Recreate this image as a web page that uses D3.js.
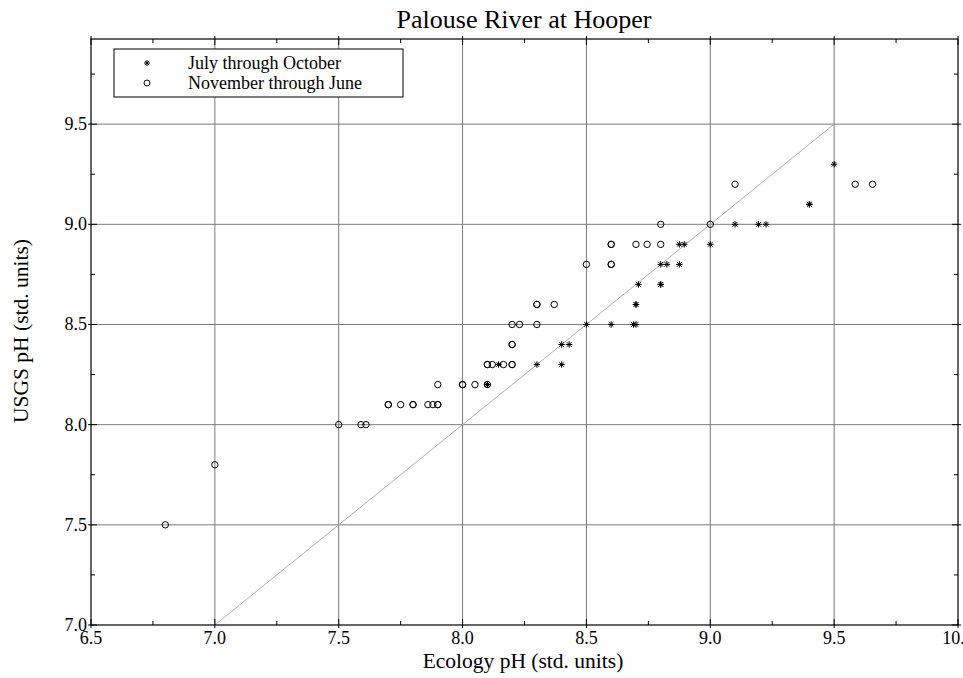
<!DOCTYPE html>
<html>
<head>
<meta charset="utf-8">
<script src="https://cdn.jsdelivr.net/npm/d3@7.9.0/dist/d3.min.js"></script>
<style>
  body { margin: 0; background: #fff; }
  svg { display: block; font-family: "Liberation Serif", "Times New Roman", serif; }
</style>
</head>
<body>
<svg id="chart" width="963" height="678"></svg>
<script>
// July through October (asterisks)
const julyX = [8.1, 8.1, 8.145, 8.3, 8.4, 8.4, 8.43, 8.5, 8.6, 8.69, 8.7, 8.7, 8.7,
  8.71, 8.8, 8.8, 8.8, 8.825, 8.875, 8.875, 8.895, 9.0, 9.1, 9.195, 9.225, 9.4, 9.4, 9.5];
const julyY = [8.2, 8.2, 8.3, 8.3, 8.3, 8.4, 8.4, 8.5, 8.5, 8.5, 8.5, 8.6, 8.6,
  8.7, 8.7, 8.7, 8.8, 8.8, 8.8, 8.9, 8.9, 8.9, 9.0, 9.0, 9.0, 9.1, 9.1, 9.3];

// November through June (circles)
const novX = [6.8, 7.0, 7.5, 7.59, 7.61,
  7.7, 7.7, 7.75, 7.8, 7.8, 7.86, 7.88, 7.9, 7.9,
  7.9, 8.0, 8.0, 8.05, 8.1,
  8.1, 8.1, 8.12, 8.165, 8.2, 8.2,
  8.2, 8.2,
  8.2, 8.23, 8.3,
  8.3, 8.3, 8.37,
  8.5, 8.6, 8.6,
  8.6, 8.6, 8.7, 8.745, 8.8,
  8.8, 9.0,
  9.1, 9.585, 9.655];
const novY = [7.5, 7.8, 8.0, 8.0, 8.0,
  8.1, 8.1, 8.1, 8.1, 8.1, 8.1, 8.1, 8.1, 8.1,
  8.2, 8.2, 8.2, 8.2, 8.2,
  8.3, 8.3, 8.3, 8.3, 8.3, 8.3,
  8.4, 8.4,
  8.5, 8.5, 8.5,
  8.6, 8.6, 8.6,
  8.8, 8.8, 8.8,
  8.9, 8.9, 8.9, 8.9, 8.9,
  9.0, 9.0,
  9.2, 9.2, 9.2];

const xTicks = [6.5, 7.0, 7.5, 8.0, 8.5, 9.0, 9.5, 10.0];
const yTicks = [7.0, 7.5, 8.0, 8.5, 9.0, 9.5];
const legendLabels = ['July through October', 'November through June'];

const svg = d3.select('#chart');
const plotLeft = 91, plotRight = 958, plotTop = 39, plotBottom = 625;

const x = d3.scaleLinear().domain([6.5, 10.0]).range([plotLeft, plotRight]);
const y = d3.scaleLinear().domain([7.0, 9.925]).range([plotBottom, plotTop]);

// grid lines
svg.append('g')
  .selectAll('line')
  .data(xTicks.slice(1, -1))
  .join('line')
  .attr('x1', (d) => x(d)).attr('x2', (d) => x(d))
  .attr('y1', plotTop).attr('y2', plotBottom)
  .attr('stroke', '#7a7a7a').attr('stroke-width', 1);

svg.append('g')
  .selectAll('line')
  .data(yTicks.slice(1))
  .join('line')
  .attr('x1', plotLeft).attr('x2', plotRight)
  .attr('y1', (d) => y(d)).attr('y2', (d) => y(d))
  .attr('stroke', '#7a7a7a').attr('stroke-width', 1);

// 1:1 line
svg.append('line')
  .attr('x1', x(7.0)).attr('y1', y(7.0))
  .attr('x2', x(9.5)).attr('y2', y(9.5))
  .attr('stroke', '#b0b0b0').attr('stroke-width', 1);

// frame
svg.append('rect')
  .attr('x', plotLeft).attr('y', plotTop)
  .attr('width', plotRight - plotLeft).attr('height', plotBottom - plotTop)
  .attr('fill', 'none').attr('stroke', '#000').attr('stroke-width', 1.2);

// ticks (major cross the frame, minor point inward)
const xMinor = d3.range(6.75, 10.0, 0.5);
const yMinor = d3.range(7.25, 9.9, 0.5);
const tickG = svg.append('g').attr('stroke', '#000').attr('stroke-width', 1);

xTicks.forEach((t) => {
  tickG.append('line').attr('x1', x(t)).attr('x2', x(t)).attr('y1', plotBottom - 6).attr('y2', plotBottom + 3);
  tickG.append('line').attr('x1', x(t)).attr('x2', x(t)).attr('y1', plotTop - 3).attr('y2', plotTop + 6);
});
xMinor.forEach((t) => {
  tickG.append('line').attr('x1', x(t)).attr('x2', x(t)).attr('y1', plotBottom - 4).attr('y2', plotBottom);
  tickG.append('line').attr('x1', x(t)).attr('x2', x(t)).attr('y1', plotTop).attr('y2', plotTop + 4);
});
yTicks.forEach((t) => {
  tickG.append('line').attr('y1', y(t)).attr('y2', y(t)).attr('x1', plotLeft - 3).attr('x2', plotLeft + 6);
  tickG.append('line').attr('y1', y(t)).attr('y2', y(t)).attr('x1', plotRight - 6).attr('x2', plotRight + 3);
});
yMinor.forEach((t) => {
  tickG.append('line').attr('y1', y(t)).attr('y2', y(t)).attr('x1', plotLeft).attr('x2', plotLeft + 4);
  tickG.append('line').attr('y1', y(t)).attr('y2', y(t)).attr('x1', plotRight - 4).attr('x2', plotRight);
});

// tick labels
svg.append('g')
  .selectAll('text')
  .data(xTicks)
  .join('text')
  .attr('x', (d) => x(d)).attr('y', plotBottom + 19)
  .attr('text-anchor', 'middle')
  .attr('font-size', 18)
  .text((d) => d.toFixed(1));

svg.append('g')
  .selectAll('text')
  .data(yTicks)
  .join('text')
  .attr('x', plotLeft - 4).attr('y', (d) => y(d) + 6)
  .attr('text-anchor', 'end')
  .attr('font-size', 18)
  .text((d) => d.toFixed(1));

// titles
svg.append('text')
  .attr('x', 524).attr('y', 28)
  .attr('text-anchor', 'middle').attr('font-size', 26)
  .text('Palouse River at Hooper');

svg.append('text')
  .attr('x', 523).attr('y', 668)
  .attr('text-anchor', 'middle').attr('font-size', 21.5)
  .text('Ecology pH (std. units)');

svg.append('text')
  .attr('transform', 'translate(28,331) rotate(-90)')
  .attr('text-anchor', 'middle').attr('font-size', 21.5)
  .text('USGS pH (std. units)');

// markers
function asteriskPath(cx, cy, r) {
  const p = d3.path();
  for (let i = 0; i < 4; i++) {
    const a = (i * Math.PI) / 4;
    p.moveTo(cx - r * Math.cos(a), cy - r * Math.sin(a));
    p.lineTo(cx + r * Math.cos(a), cy + r * Math.sin(a));
  }
  return p.toString();
}

const pts = svg.append('g');

pts.selectAll('circle')
  .data(novX.map((v, i) => [v, novY[i]]))
  .join('circle')
  .attr('cx', (d) => x(d[0])).attr('cy', (d) => y(d[1]))
  .attr('r', 3.2)
  .attr('fill', 'none').attr('stroke', '#000').attr('stroke-width', 1);

pts.selectAll('path')
  .data(julyX.map((v, i) => [v, julyY[i]]))
  .join('path')
  .attr('d', (d) => asteriskPath(x(d[0]), y(d[1]), 3.2))
  .attr('stroke', '#000').attr('stroke-width', 1).attr('fill', 'none');

// legend
const lg = svg.append('g');
lg.append('rect')
  .attr('x', 114).attr('y', 49).attr('width', 289).attr('height', 48)
  .attr('fill', '#fff').attr('stroke', '#000').attr('stroke-width', 1);

lg.append('path')
  .attr('d', asteriskPath(147, 63, 3))
  .attr('stroke', '#000').attr('fill', 'none');
lg.append('circle')
  .attr('cx', 147).attr('cy', 83).attr('r', 3)
  .attr('fill', 'none').attr('stroke', '#000');

lg.selectAll('text')
  .data(legendLabels)
  .join('text')
  .attr('x', 188).attr('y', (d, i) => 69 + i * 20)
  .attr('font-size', 18)
  .text((d) => d);
</script>
</body>
</html>
